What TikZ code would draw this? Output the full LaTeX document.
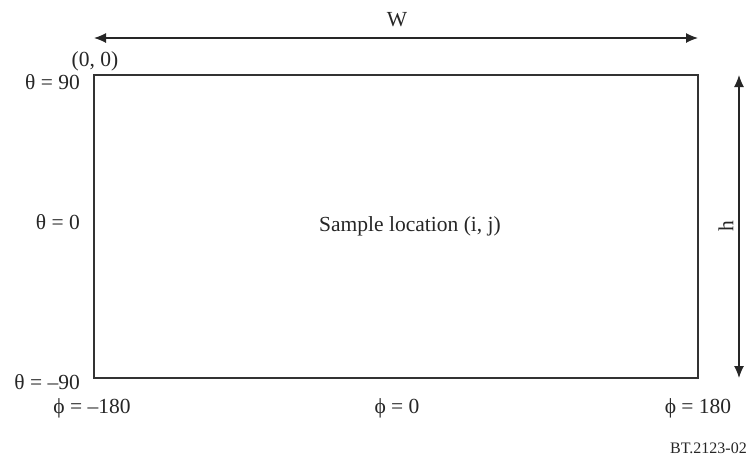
\documentclass[tikz,border=0pt]{standalone}
\usepackage{fontspec}
\setmainfont{Liberation Serif}
\usetikzlibrary{arrows.meta}

\begin{document}
\begin{tikzpicture}[
  x=1pt, y=-1pt,
  every node/.style={inner sep=1pt, font=\fontsize{21.5}{24}\selectfont, text=black!85},
  frame/.style={draw=black!80, line width=1.5pt},
  dim/.style={draw=black!85, line width=1.2pt, {Latex[length=12pt,width=10pt]}-{Latex[length=12pt,width=10pt]}},
  lab/.style={anchor=east}]

  \useasboundingbox (0,0) rectangle (748,459);

  % the sample grid
  \coordinate (tl) at (94,75);
  \coordinate (br) at (698,378);
  \draw[frame] (tl) rectangle (br);
  \node (sample) at (410,226) {Sample location (i, j)};

  % dimension arrows
  \coordinate (wl) at (94,38);
  \coordinate (wr) at (698,38);
  \coordinate (ht) at (739,75);
  \coordinate (hb) at (739,378);
  \draw[dim] (wl) -- (wr);
  \draw[dim] (ht) -- (hb);
  \node (w) at (397,20) {W};
  \node[rotate=90] (h) at (726,226) {h};

  % axis labels
  \node (origin) at (95,61) {(0, 0)};
  \node[lab] (t90)  at (81,82)  {θ = 90};
  \node[lab] (t0)   at (81,222) {θ = 0};
  \node[lab] (tm90) at (81,382) {θ = \textendash90};
  \node (pm180) at (92,408)  {ϕ = \textendash180};
  \node (p0)    at (397,408) {ϕ = 0};
  \node (p180)  at (698,408) {ϕ = 180};
  \node[anchor=east, font=\fontsize{16}{18}\selectfont] (ref) at (748,448) {BT.2123-02};
\end{tikzpicture}
\end{document}
